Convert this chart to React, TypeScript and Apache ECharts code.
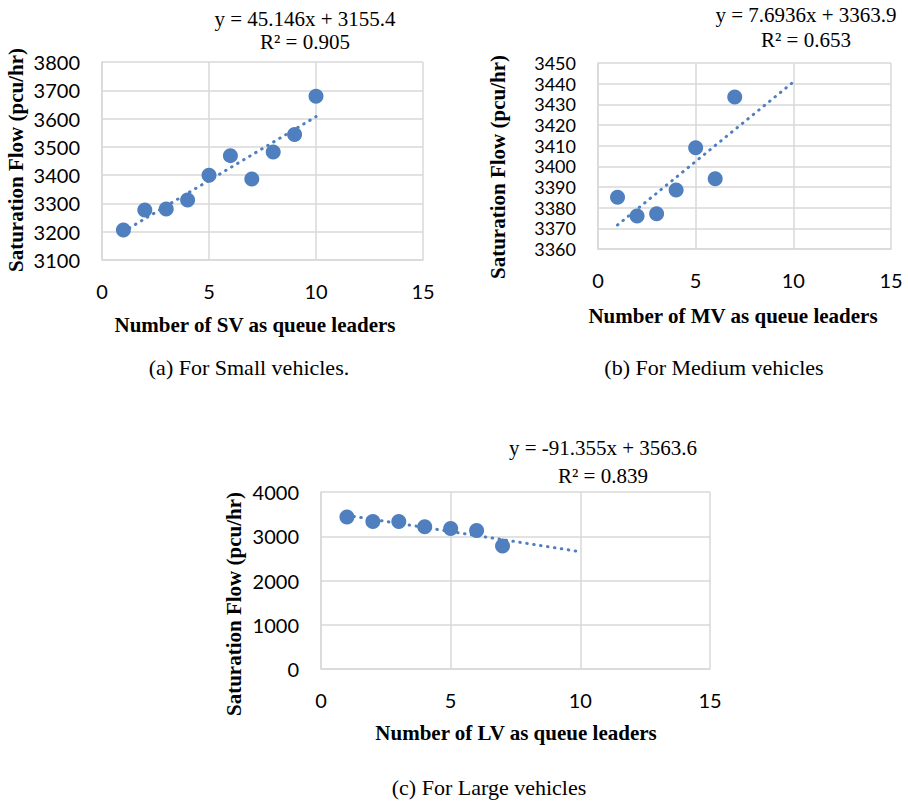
import React, { useEffect, useRef } from "react";
import * as echarts from "echarts";

const leadersSmall = [1, 2, 3, 4, 5, 6, 7, 8, 9, 10];
const flowSmall = [3206, 3277, 3280, 3312, 3400, 3469, 3386, 3482, 3544, 3679];
const leadersMedium = [1, 2, 3, 4, 5, 6, 7];
const flowMedium = [3385, 3376, 3377, 3388.5, 3409, 3394, 3433.6];
const leadersLarge = [1, 2, 3, 4, 5, 6, 7];
const flowLarge = [3433, 3333, 3333, 3213, 3175, 3129, 2782];

// trendline end points (x = 1 and x = 10) from the fitted equations
const trendX = [1, 10];
const trendSmall = [3200.5, 3606.9];
const trendMedium = [3371.6, 3440.8];
const trendLarge = [3472.2, 2650.0];

const equations = [
  ["y = 45.146x + 3155.4", "R² = 0.905"],
  ["y = 7.6936x + 3363.9", "R² = 0.653"],
  ["y = -91.355x + 3563.6", "R² = 0.839"],
];
const xTitles = [
  "Number of SV as queue leaders",
  "Number of MV as queue leaders",
  "Number of LV as queue leaders",
];
const yTitle = "Saturation Flow (pcu/hr)";
const captions = ["(a) For Small vehicles.", "(b) For Medium vehicles", "(c) For Large vehicles"];

const yRanges = [
  [3100, 3800, 100],
  [3360, 3450, 10],
  [0, 4000, 1000],
];

const BLUE = "#4f7fbf";
const GRID = "#d9d9d9";
const SERIF = "'Liberation Serif', 'Times New Roman', serif";
const SANS = "Lato, 'Open Sans', sans-serif";

export default function App() {
  const ref = useRef<HTMLDivElement>(null);
  useEffect(() => {
    const chart = echarts.init(ref.current!, null, { renderer: "svg" });
    const grids = [
      { left: 102, top: 62, width: 321, height: 198 },
      { left: 598, top: 63, width: 293, height: 186 },
      { left: 321, top: 492, width: 389, height: 177 },
    ];
    const ySizes = [20, 18, 20];
    const plain = (v: number) => String(v);
    const xAxis = grids.map((_, i) => ({
      type: "value",
      gridIndex: i,
      min: 0,
      max: 15,
      interval: 5,
      axisLine: { show: true, lineStyle: { color: GRID, width: 1.5 } },
      axisTick: { show: false },
      splitLine: { show: true, lineStyle: { color: GRID, width: 1.5 } },
      axisLabel: { color: "#000", fontFamily: SANS, fontSize: 20, margin: 21, formatter: plain },
    }));
    const yAxis = yRanges.map((r, i) => ({
      type: "value",
      gridIndex: i,
      min: r[0],
      max: r[1],
      interval: r[2],
      axisLine: { show: true, lineStyle: { color: GRID, width: 1.5 } },
      axisTick: { show: false },
      splitLine: { show: true, lineStyle: { color: GRID, width: 1.5 } },
      axisLabel: {
        color: "#000",
        fontFamily: SANS,
        fontSize: ySizes[i],
        lineHeight: ySizes[i],
        margin: 22,
        formatter: plain,
      },
    }));
    const pts = (xs: number[], ys: number[]) => xs.map((x, i) => [x, ys[i]]);
    const sets = [
      [leadersSmall, flowSmall, trendSmall],
      [leadersMedium, flowMedium, trendMedium],
      [leadersLarge, flowLarge, trendLarge],
    ];
    const series: any[] = [];
    sets.forEach((s, i) => {
      series.push({
        type: "scatter",
        xAxisIndex: i,
        yAxisIndex: i,
        data: pts(s[0], s[1]),
        symbolSize: 15,
        itemStyle: { color: BLUE, opacity: 1 },
        z: 2,
      });
      series.push({
        type: "line",
        xAxisIndex: i,
        yAxisIndex: i,
        data: pts(trendX, s[2]),
        showSymbol: false,
        symbol: "none",
        lineStyle: { color: BLUE, width: 3, type: [0.5, 6.5], cap: "round" },
        z: 3,
      });
    });
    const txt = (x: number, y: number, text: string, size: number, bold = false, rot = 0) => ({
      type: "text",
      x,
      y,
      rotation: rot,
      style: {
        text,
        fill: "#000",
        font: `${bold ? "bold " : ""}${size}px ${SERIF}`,
        textAlign: "center",
        textVerticalAlign: "middle",
      },
    });
    const eqPos = [
      [305, 19, 42],
      [806, 15, 40],
      [603, 448, 476],
    ];
    const titlePos = [
      [255, 325],
      [733, 316],
      [516, 733],
    ];
    const yTitlePos = [
      [16, 160],
      [498, 167],
      [234, 604],
    ];
    const capPos = [
      [249, 367],
      [714, 367],
      [489, 787],
    ];
    const graphic: any[] = [];
    for (let i = 0; i < 3; i++) {
      graphic.push(txt(eqPos[i][0], eqPos[i][1], equations[i][0], 21));
      graphic.push(txt(eqPos[i][0], eqPos[i][2], equations[i][1], 21));
      graphic.push(txt(titlePos[i][0], titlePos[i][1], xTitles[i], 21, true));
      graphic.push(txt(yTitlePos[i][0], yTitlePos[i][1], yTitle, 21, true, Math.PI / 2));
      graphic.push(txt(capPos[i][0], capPos[i][1], captions[i], 22));
    }
    chart.setOption({
      animation: false,
      backgroundColor: "#fff",
      grid: grids,
      xAxis,
      yAxis,
      series,
      graphic,
    });
    return () => chart.dispose();
  }, []);
  return (
    <div
      ref={ref}
      style={{ position: "absolute", left: 0, top: 0, width: 908, height: 801, background: "#fff" }}
    />
  );
}
